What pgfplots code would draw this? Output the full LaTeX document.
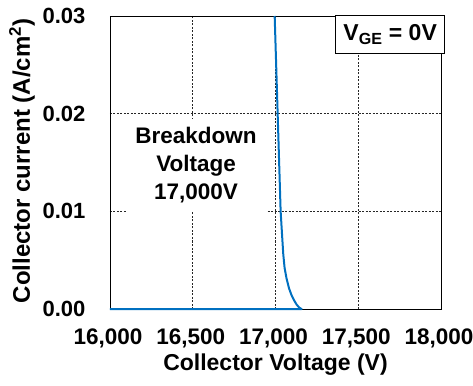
\documentclass[border=0pt]{standalone}
\usepackage{fontspec}
\setmainfont{Liberation Sans}
\usepackage{pgfplots}
\pgfplotsset{compat=1.18}
\usetikzlibrary{calc}
\definecolor{curveblue}{RGB}{0,112,192}
\begin{document}
\begin{tikzpicture}
\begin{axis}[
  name=main,
  scale only axis, width=331pt, height=293pt,
  xmin=16000, xmax=18000, ymin=0, ymax=0.03,
  xtick={16000,16500,17000,17500,18000},
  ytick={0,0.01,0.02,0.03},
  scaled x ticks=false, scaled y ticks=false,
  grid=major,
  major grid style={black!85, line width=0.6pt, dash pattern=on 2pt off 1.5pt},
  major tick length=0pt,
  axis line style={black, line width=0.9pt},
  /pgf/number format/assume math mode=true,
  xticklabel style={/pgf/number format/fixed, /pgf/number format/1000 sep={,},
    font=\bfseries\fontsize{22.5}{24}\selectfont, anchor=center, yshift=-29pt, xshift=-2pt},
  yticklabel style={/pgf/number format/fixed, /pgf/number format/fixed zerofill,
    /pgf/number format/precision=2,
    font=\bfseries\fontsize{22}{24}\selectfont, anchor=east, xshift=-21pt},
  xlabel={Collector Voltage (V)},
  xlabel style={at={(axis description cs:0.5,-0.191)}, anchor=center,
    font=\bfseries\fontsize{23}{26}\selectfont},
  ylabel={Collector current (A/cm\textsuperscript{2})},
  ylabel style={at={(axis description cs:-0.266,0.505)}, anchor=center,
    font=\bfseries\fontsize{24}{26}\selectfont},
  clip=false,
]
\addplot[curveblue, line width=2pt, line join=round] coordinates {
  (16000,0) (17158,0) (17145,0.00012) (17128,0.00044) (17112,0.0009)
  (17098,0.00137) (17082,0.0021) (17067,0.0031) (17055,0.0042)
  (17047,0.0056) (17040,0.0075) (17031,0.01) (17013,0.02) (16995,0.03)
};
\node[fill=white, align=center, inner sep=9pt,
  font=\bfseries\fontsize{22.5}{28}\selectfont]
  at (axis cs:16520,0.0147) {Breakdown\\Voltage\\17,000V};
\node[draw=black, line width=0.7pt, fill=white, anchor=north east,
  minimum width=109pt, minimum height=37pt, inner sep=2pt,
  font=\bfseries\fontsize{23}{24}\selectfont]
  at ($(rel axis cs:1,1)+(4pt,0.5pt)$) {V\textsubscript{GE} = 0V};
\end{axis}
\pgfresetboundingbox
\path ($(main.south west)+(-110pt,-76pt)$) rectangle ($(main.north east)+(32pt,16pt)$);
\end{tikzpicture}
\end{document}
